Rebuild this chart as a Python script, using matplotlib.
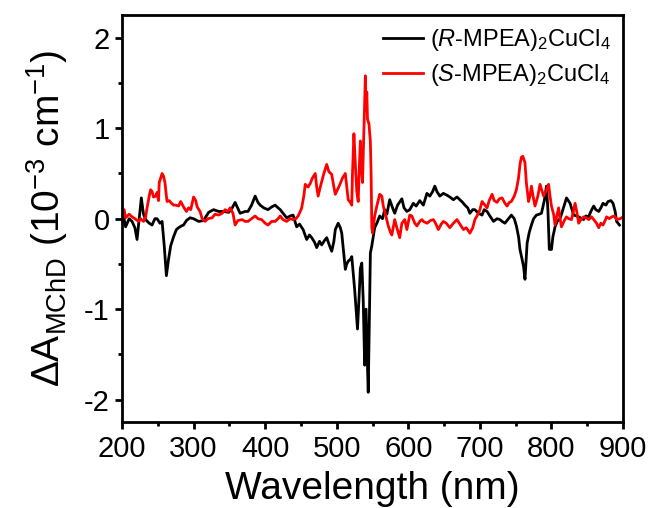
import numpy as np
import matplotlib
matplotlib.use('Agg')
import matplotlib.pyplot as plt
from matplotlib.ticker import MultipleLocator

plt.rcParams['font.family'] = ['Liberation Sans', 'DejaVu Sans']
plt.rcParams['mathtext.fontset'] = 'custom'
plt.rcParams['mathtext.rm'] = 'Liberation Sans'
plt.rcParams['mathtext.it'] = 'Liberation Sans:italic'
plt.rcParams['mathtext.bf'] = 'Liberation Sans:bold'
plt.rcParams['axes.unicode_minus'] = False

############ data ############

# (R-MPEA)2CuCl4
wl_R = [200, 205, 210, 214, 218, 221, 224, 227, 230, 233, 238, 242, 246, 249, 253, 256,
        259, 262, 265, 268, 272, 276, 279, 283, 286, 290, 295, 300, 307, 314, 321, 328,
        335, 342, 349, 354, 358, 365, 372, 376, 381, 386, 390, 393, 398, 404, 409, 414,
        418, 421, 426, 430, 435, 439, 444, 448, 453, 458, 462, 465, 469, 472, 476, 479,
        483, 486, 490, 493, 496, 498, 502, 505, 507, 510, 512, 514, 516, 519, 521, 523,
        525, 527, 529, 531, 533, 535, 537, 539, 541, 543, 544, 546, 547, 549, 551, 553,
        556, 560, 564, 567, 570, 574, 578, 581, 585, 591, 594, 598, 602, 607, 611, 616,
        621, 626, 630, 634, 637, 640, 644, 649, 654, 658, 663, 668, 672, 676, 679, 683,
        686, 690, 693, 698, 703, 706, 710, 714, 719, 724, 728, 731, 735, 740, 744, 748,
        751, 754, 756, 759, 761, 763, 766, 769, 772, 775, 779, 783, 786, 790, 793, 795,
        797, 800, 802, 805, 808, 812, 816, 821, 826, 831, 835, 838, 845, 848, 852, 855,
        859, 862, 866, 869, 872, 876, 879, 883, 886, 889, 891, 895]
dA_R = [0.12, -0.09, 0.0, -0.03, -0.1, -0.23, 0.0, 0.23, 0.05, -0.01, -0.05, -0.07, 0.0, 0.0, -0.05, -0.03,
        -0.3, -0.63, -0.45, -0.3, -0.2, -0.12, -0.1, -0.08, -0.07, -0.02, 0.01, 0.0, -0.03, -0.02, 0.07, 0.1,
        0.08, 0.08, 0.07, 0.12, 0.18, 0.06, 0.08, 0.08, 0.15, 0.25, 0.18, 0.15, 0.12, 0.1, 0.13, 0.15,
        0.12, 0.1, 0.05, 0.01, 0.03, 0.04, -0.09, -0.06, -0.12, -0.23, -0.18, -0.21, -0.26, -0.32, -0.25, -0.29,
        -0.24, -0.21, -0.3, -0.36, -0.25, -0.12, -0.05, -0.1, -0.16, -0.4, -0.56, -0.5, -0.47, -0.45, -0.42, -0.6,
        -0.78, -1.0, -1.22, -0.9, -0.55, -0.49, -0.9, -1.62, -1.0, -1.65, -1.92, -0.9, -0.38, -0.3, -0.2, -0.1,
        -0.05, 0.03, 0.0, 0.1, 0.05, 0.21, 0.12, 0.06, 0.15, 0.22, 0.12, 0.08, 0.1, 0.17, 0.14, 0.2,
        0.15, 0.28, 0.25, 0.3, 0.36, 0.3, 0.25, 0.28, 0.26, 0.24, 0.21, 0.24, 0.21, 0.18, 0.15, 0.12,
        0.06, 0.1, 0.1, 0.06, 0.04, 0.1, 0.08, 0.03, -0.03, 0.0, -0.01, -0.03, -0.05, 0.0, 0.04, 0.0,
        -0.08, -0.2, -0.34, -0.45, -0.53, -0.67, -0.27, -0.15, -0.07, 0.0, 0.04, 0.05, 0.06, 0.2, 0.36, 0.1,
        -0.34, -0.34, -0.2, -0.09, -0.03, 0.0, 0.1, 0.23, 0.17, 0.04, 0.03, 0.02, -0.01, 0.03, 0.02, 0.08,
        0.14, 0.1, 0.08, 0.12, 0.17, 0.15, 0.19, 0.2, 0.17, 0.08, -0.03, -0.07]

# (S-MPEA)2CuCl4
wl_S = [200, 203, 205, 210, 214, 218, 223, 226, 230, 233, 235, 238, 240, 242, 244, 247,
        249, 251, 252, 254, 256, 258, 260, 262, 263, 266, 268, 272, 275, 279, 282, 286,
        290, 293, 296, 300, 303, 305, 309, 312, 316, 320, 326, 330, 335, 340, 344, 348,
        351, 355, 358, 362, 368, 372, 376, 381, 386, 390, 395, 400, 404, 409, 414, 418,
        421, 425, 430, 435, 439, 443, 446, 449, 451, 454, 456, 460, 463, 466, 470, 472,
        474, 477, 479, 482, 486, 489, 493, 496, 498, 501, 505, 508, 512, 514, 516, 519,
        521, 522, 524, 526, 528, 530, 531, 533, 535, 536, 538, 540, 541, 542, 543, 545,
        547, 548, 549, 550, 553, 556, 560, 563, 565, 568, 572, 575, 577, 581, 584, 588,
        591, 595, 598, 602, 605, 609, 612, 616, 619, 621, 626, 631, 635, 638, 642, 646,
        649, 653, 658, 663, 668, 672, 677, 681, 686, 690, 693, 698, 700, 703, 707, 710,
        713, 717, 720, 724, 727, 731, 735, 738, 741, 744, 748, 751, 754, 756, 758, 760,
        763, 765, 768, 770, 772, 775, 777, 781, 784, 787, 789, 792, 796, 798, 800, 803,
        805, 808, 810, 812, 814, 818, 821, 824, 828, 831, 833, 836, 838, 842, 845, 849,
        852, 856, 859, 863, 866, 869, 872, 875, 877, 881, 884, 888, 891, 896, 900]
dA_S = [0.05, 0.1, 0.01, 0.05, 0.02, 0.0, -0.03, 0.0, -0.03, 0.02, 0.12, 0.25, 0.32, 0.3, 0.24, 0.25,
        0.29, 0.2, 0.4, 0.45, 0.5, 0.47, 0.4, 0.25, 0.19, 0.2, 0.18, 0.15, 0.15, 0.14, 0.19, 0.13,
        0.08, 0.12, 0.1, 0.24, 0.2, 0.13, 0.08, 0.0, -0.03, 0.0, 0.01, 0.05, 0.04, 0.06, 0.1, 0.08,
        0.12, 0.06, -0.07, -0.02, -0.01, -0.03, -0.03, 0.0, 0.03, 0.0, -0.01, -0.05, -0.07, -0.03, -0.03, 0.0,
        0.03, -0.01, -0.03, 0.0, -0.01, 0.0, 0.03, 0.08, 0.12, 0.25, 0.38, 0.35, 0.39, 0.45, 0.5, 0.35,
        0.25, 0.35, 0.41, 0.5, 0.6, 0.52, 0.49, 0.35, 0.27, 0.32, 0.39, 0.45, 0.5, 0.35, 0.21, 0.18,
        0.15, 0.5, 0.94, 0.6, 0.3, 0.19, 0.45, 0.86, 0.5, 0.4, 1.0, 1.58, 1.2, 1.4, 1.1, 1.05,
        0.85, 0.5, -0.1, -0.16, 0.03, 0.14, 0.27, 0.25, 0.14, 0.05, -0.08, -0.15, -0.18, -0.01, -0.1, -0.21,
        -0.05, -0.01, -0.12, 0.04, 0.03, -0.05, -0.08, -0.03, -0.01, -0.03, -0.05, -0.02, -0.01, -0.05, -0.12, -0.06,
        -0.03, -0.05, -0.1, -0.05, -0.01, -0.06, -0.12, -0.1, -0.16, -0.1, -0.01, 0.06, 0.1, 0.19, 0.15, 0.12,
        0.2, 0.27, 0.2, 0.18, 0.22, 0.23, 0.17, 0.14, 0.18, 0.19, 0.25, 0.32, 0.45, 0.6, 0.68, 0.69,
        0.62, 0.39, 0.19, 0.25, 0.36, 0.22, 0.14, 0.25, 0.38, 0.3, 0.25, 0.3, 0.38, 0.25, 0.14, 0.05,
        -0.07, 0.05, 0.12, 0.0, -0.09, -0.02, 0.02, 0.0, -0.01, 0.1, 0.17, 0.05, -0.05, 0.0, 0.02, 0.01,
        -0.01, 0.02, -0.01, -0.05, -0.1, -0.05, -0.07, -0.02, 0.02, 0.0, 0.02, 0.03, -0.01, 0.0, 0.02]

label_R = r'($\mathit{R}$-MPEA)$_2$CuCl$_4$'
label_S = r'($\mathit{S}$-MPEA)$_2$CuCl$_4$'

############ Plotting ############

fig = plt.figure(figsize=(6.49, 5.08), dpi=100)
ax = fig.add_axes([0.188, 0.169, 0.772, 0.801])

ax.plot(wl_R, dA_R, color='black', linewidth=2.0, label=label_R)
ax.plot(wl_S, dA_S, color='red', linewidth=2.0, label=label_S)

ax.set_xlim(200, 900)
ax.set_ylim(-2.25, 2.25)
ax.xaxis.set_major_locator(MultipleLocator(100))
ax.xaxis.set_minor_locator(MultipleLocator(50))
ax.yaxis.set_major_locator(MultipleLocator(1))
ax.yaxis.set_minor_locator(MultipleLocator(0.5))
ax.tick_params(which='major', direction='out', length=5, width=2.0, labelsize=21, pad=4)
ax.tick_params(which='minor', direction='out', length=3, width=2.0)
ax.tick_params(top=False, right=False)
for s in ax.spines.values():
    s.set_linewidth(2.0)

ax.set_xlabel('Wavelength (nm)', fontsize=28, labelpad=6)
ax.set_ylabel(r'ΔA$_{\mathrm{MChD}}$ (10$^{-3}$ cm$^{-1}$)', fontsize=28, labelpad=10)

ax.legend(loc='upper right', fontsize=17, frameon=False, handlelength=1.7,
          handletextpad=0.3, labelspacing=0.4, borderaxespad=0.1)

plt.savefig('out.png', dpi=100)
